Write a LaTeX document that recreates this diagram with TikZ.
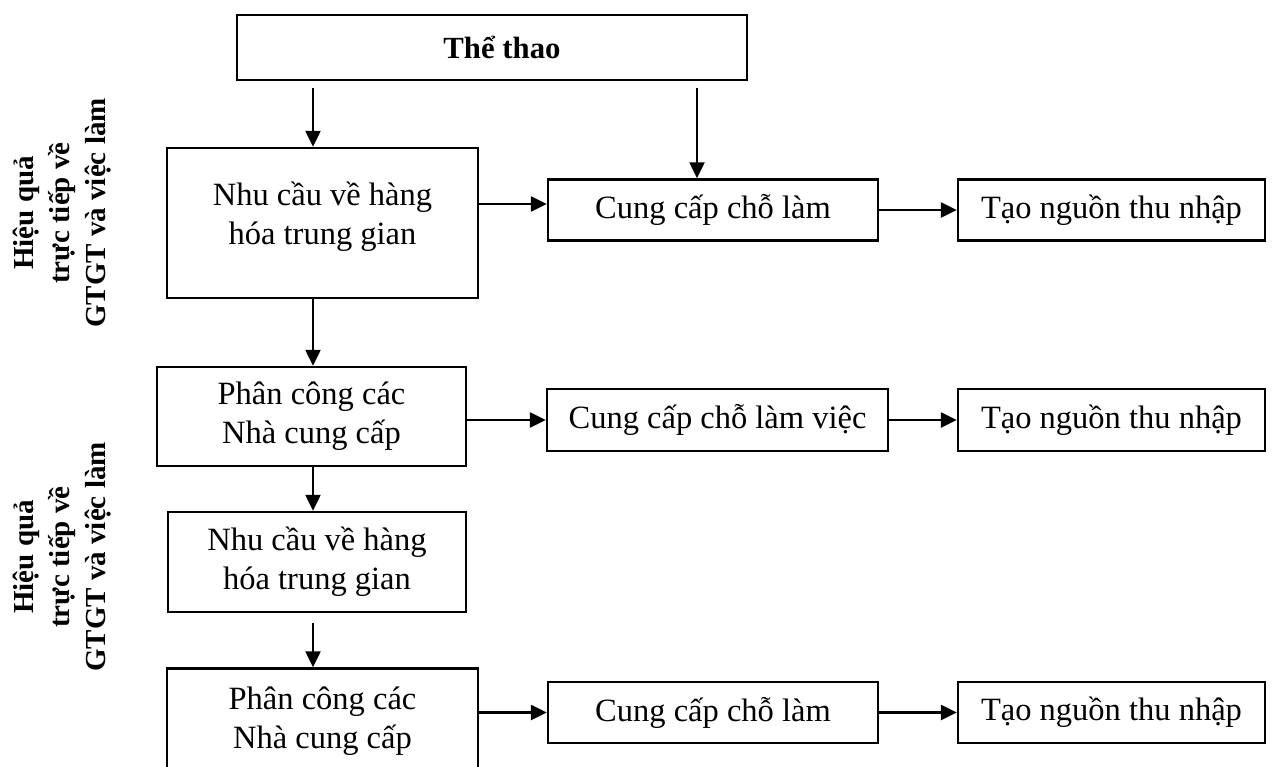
\documentclass[tikz,border=0pt]{standalone}
\usepackage{fontspec}
\setmainfont{Liberation Serif}
\usetikzlibrary{arrows.meta}

\begin{document}
\begin{tikzpicture}[x=0.02cm, y=-0.02cm]
    \tikzstyle{box} = [rectangle, draw, line width=0.05cm, inner sep=0pt, align=center, font=\fontsize{18.5}{22}\selectfont]
    \tikzstyle{sidelabel} = [rotate=90, align=center, inner sep=0pt, font=\fontsize{16.5}{20.5}\selectfont\bfseries]
    \tikzstyle{arr} = [line width=0.05cm, -{Triangle[length=0.32cm, width=0.3cm]}]

    \useasboundingbox (0,0) rectangle (1279,767);
    \clip (0,0) rectangle (1279,767);

    % Top box
    \node[box, minimum width=10.2cm, minimum height=1.3cm, font=\fontsize{17.5}{20}\selectfont\bfseries] (sport) at (492,47.5) {\hspace*{0.4cm}Thể thao};

    % Left column
    \node[box, minimum width=6.22cm, minimum height=3.0cm, text depth=0.4cm] (demandA) at (322.5,223) {Nhu cầu về hàng\\hóa trung gian};
    \node[box, minimum width=6.18cm, minimum height=1.98cm] (supplyA) at (311.5,416.5) {Phân công các\\Nhà cung cấp};
    \node[box, minimum width=5.96cm, minimum height=2.0cm] (demandB) at (317,562) {Nhu cầu về hàng\\hóa trung gian};
    \node[box, minimum width=6.22cm, minimum height=2.1cm] (supplyB) at (322.5,721) {Phân công các\\Nhà cung cấp};

    % Jobs and income
    \node[box, minimum width=6.6cm, minimum height=1.22cm] (jobA) at (713,210) {Cung cấp chỗ làm};
    \node[box, minimum width=6.14cm, minimum height=1.22cm] (incA) at (1111.5,210) {Tạo nguồn thu nhập};
    \node[box, minimum width=6.82cm, minimum height=1.24cm] (jobB) at (717.5,420) {Cung cấp chỗ làm việc};
    \node[box, minimum width=6.14cm, minimum height=1.24cm] (incB) at (1111.5,420) {Tạo nguồn thu nhập};
    \node[box, minimum width=6.6cm, minimum height=1.22cm] (jobC) at (713,712.5) {Cung cấp chỗ làm};
    \node[box, minimum width=6.14cm, minimum height=1.22cm] (incC) at (1111.5,712.5) {Tạo nguồn thu nhập};

    % Side labels
    \node[sidelabel] (effA) at (62,213) {Hiệu quả\\trực tiếp về\\GTGT và việc làm};
    \node[sidelabel] (effB) at (62,557) {Hiệu quả\\trực tiếp về\\GTGT và việc làm};

    % Vertical arrows
    \coordinate (col) at (313,0);
    \coordinate (fromA) at (313,88);
    \coordinate (fromB) at (697,88);
    \coordinate (fromC) at (313,623);
    \draw[arr] (fromA) -- (fromA |- demandA.north);
    \draw[arr] (fromB) -- (fromB |- jobA.north);
    \draw[arr] (col |- demandA.south) -- (col |- supplyA.north);
    \draw[arr] (col |- supplyA.south) -- (col |- demandB.north);
    \draw[arr] (fromC) -- (fromC |- supplyB.north);

    % Horizontal arrows
    \draw[arr] ([yshift=0.12cm]jobA.west -| demandA.east) -- ([yshift=0.12cm]jobA.west);
    \draw[arr] (jobA) -- (incA);
    \draw[arr] (supplyA.east |- jobB.west) -- (jobB.west);
    \draw[arr] (jobB) -- (incB);
    \draw[arr] (supplyB.east |- jobC.west) -- (jobC.west);
    \draw[arr] (jobC) -- (incC);
\end{tikzpicture}
\end{document}
